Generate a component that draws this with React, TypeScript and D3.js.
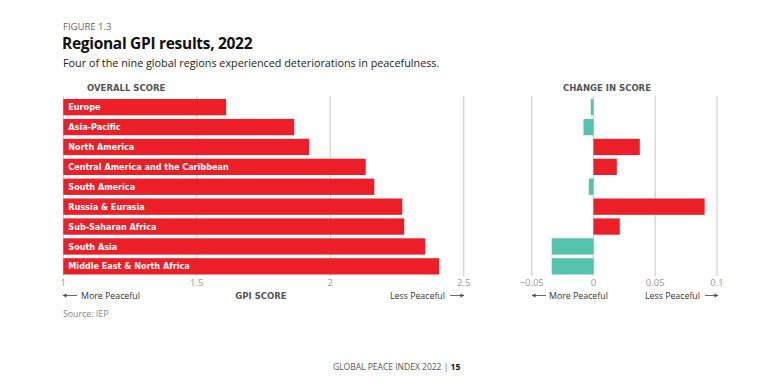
import React, { useEffect, useRef } from "react";
import * as d3 from "d3";

const regions = [
  "Europe",
  "Asia-Pacific",
  "North America",
  "Central America and the Caribbean",
  "South America",
  "Russia & Eurasia",
  "Sub-Saharan Africa",
  "South Asia",
  "Middle East & North Africa",
];
const overallScore = [1.61, 1.865, 1.921, 2.133, 2.165, 2.27, 2.277, 2.356, 2.408];
const scoreChange = [-0.0022, -0.0081, 0.0375, 0.0189, -0.0038, 0.09, 0.0213, -0.0338, -0.0338];
const scoreTicks = [1, 1.5, 2, 2.5];
const changeTicks = [-0.05, 0, 0.05, 0.1];

const RED = "#ec1f28";
const TEAL = "#55c3aa";
const GRID = "#cfcfcf";
const FONT = "'Open Sans', Roboto, sans-serif";
const BOLD = "'DejaVu Sans', 'Open Sans', sans-serif";

export default function App() {
  const ref = useRef<SVGSVGElement>(null);

  useEffect(() => {
    const svg = d3.select(ref.current);
    svg.selectAll("*").remove();

    // header
    svg.append("text").attr("x", 63).attr("y", 29.5).text("FIGURE 1.3")
      .attr("font-size", 9.5).attr("fill", "#666").attr("font-family", FONT);
    svg.append("text").attr("x", 62).attr("y", 48.5).text("Regional GPI results, 2022")
      .attr("font-size", 15.5).attr("font-weight", 700).attr("fill", "#111")
      .attr("font-family", FONT).attr("letter-spacing", -0.3);
    svg.append("text").attr("x", 63).attr("y", 67)
      .text("Four of the nine global regions experienced deteriorations in peacefulness.")
      .attr("font-size", 10.8).attr("fill", "#222").attr("font-family", FONT);

    const y = d3.scaleBand().domain(regions).range([98, 275.5]).paddingInner(0.18).paddingOuter(0.05);
    const gridTop = 96;
    const gridBottom = 276;

    // left chart: overall score
    const x = d3.scaleLinear().domain([1, 2.5]).range([63.3, 463.7]);
    const left = svg.append("g");
    left.append("text").attr("x", 87).attr("y", 91).text("OVERALL SCORE")
      .attr("font-size", 8.5).attr("font-weight", 700).attr("fill", "#555").attr("font-family", BOLD);
    left.selectAll("line.grid").data(scoreTicks).enter().append("line")
      .attr("x1", (d) => x(d)).attr("x2", (d) => x(d))
      .attr("y1", gridTop).attr("y2", gridBottom)
      .attr("stroke", GRID).attr("stroke-width", 1.2);
    left.selectAll("rect").data(overallScore).enter().append("rect")
      .attr("x", x(1)).attr("y", (d, i) => y(regions[i])!)
      .attr("width", (d) => x(d) - x(1)).attr("height", y.bandwidth())
      .attr("fill", RED);
    left.selectAll("text.lbl").data(regions).enter().append("text")
      .attr("x", x(1) + 5).attr("y", (d) => y(d)! + y.bandwidth() / 2 + 3.1)
      .text((d) => d).attr("font-size", 8.1).attr("font-weight", 700)
      .attr("fill", "#fff").attr("font-family", BOLD);
    left.selectAll("text.tick").data(scoreTicks).enter().append("text")
      .attr("x", (d) => x(d)).attr("y", 286).attr("text-anchor", "middle")
      .text((d) => d3.format("")(d)).attr("font-size", 9.5).attr("fill", "#999").attr("font-family", FONT);

    // right chart: change in score
    const xc = d3.scaleLinear().domain([-0.05, 0.1]).range([531.7, 717]);
    const right = svg.append("g");
    right.append("text").attr("x", 607).attr("y", 91).attr("text-anchor", "middle").text("CHANGE IN SCORE")
      .attr("font-size", 8.5).attr("font-weight", 700).attr("fill", "#555").attr("font-family", BOLD);
    right.selectAll("line.grid").data(changeTicks).enter().append("line")
      .attr("x1", (d) => xc(d)).attr("x2", (d) => xc(d))
      .attr("y1", gridTop).attr("y2", gridBottom)
      .attr("stroke", GRID).attr("stroke-width", 1.2);
    right.selectAll("rect").data(scoreChange).enter().append("rect")
      .attr("x", (d) => xc(Math.min(0, d))).attr("y", (d, i) => y(regions[i])!)
      .attr("width", (d) => Math.abs(xc(d) - xc(0))).attr("height", y.bandwidth())
      .attr("fill", (d) => (d > 0 ? RED : TEAL));
    right.selectAll("text.tick").data(changeTicks).enter().append("text")
      .attr("x", (d) => xc(d)).attr("y", 286).attr("text-anchor", "middle")
      .text((d) => d3.format("")(d)).attr("font-size", 9.5).attr("fill", "#999").attr("font-family", FONT);

    // direction hints
    const arrow = (x1: number, x2: number, yy: number) => {
      const g = svg.append("g");
      g.append("line").attr("x1", x1).attr("x2", x2).attr("y1", yy).attr("y2", yy)
        .attr("stroke", "#444").attr("stroke-width", 0.8);
      const dir = x2 > x1 ? 1 : -1;
      g.append("path")
        .attr("d", `M${x2},${yy} L${x2 - dir * 3.5},${yy - 2} L${x2 - dir * 3.5},${yy + 2} Z`)
        .attr("fill", "#444");
    };
    const hint = (tx: number, anchor: string, label: string) =>
      svg.append("text").attr("x", tx).attr("y", 299).attr("text-anchor", anchor).text(label)
        .attr("font-size", 8.8).attr("fill", "#333").attr("font-family", FONT);

    arrow(77, 63, 295.5);
    hint(81, "start", "More Peaceful");
    svg.append("text").attr("x", 261).attr("y", 299).attr("text-anchor", "middle").text("GPI SCORE")
      .attr("font-size", 8.5).attr("font-weight", 700).attr("fill", "#555").attr("font-family", BOLD);
    hint(445, "end", "Less Peaceful");
    arrow(450, 464, 295.5);

    arrow(546, 532, 295.5);
    hint(549, "start", "More Peaceful");
    hint(700, "end", "Less Peaceful");
    arrow(705, 718, 295.5);

    svg.append("text").attr("x", 63).attr("y", 317).text("Source: IEP")
      .attr("font-size", 8.8).attr("fill", "#888").attr("font-family", FONT);

    const footer = svg.append("text").attr("x", 333).attr("y", 370)
      .attr("font-size", 8.5).attr("fill", "#555").attr("font-family", FONT);
    footer.append("tspan").text("GLOBAL PEACE INDEX 2022  |  ");
    footer.append("tspan").text("15").attr("font-weight", 700).attr("fill", "#111");
  }, []);

  return (
    <svg
      ref={ref}
      width={781}
      height={385}
      style={{ position: "absolute", left: 0, top: 0, background: "#fff" }}
    />
  );
}
